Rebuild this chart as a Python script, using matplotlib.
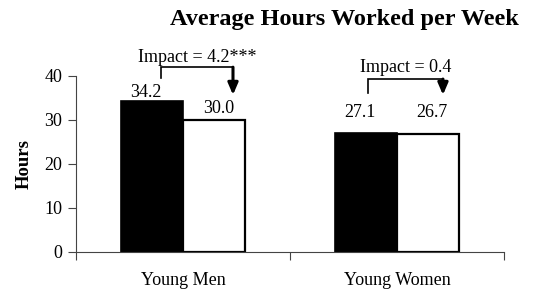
import matplotlib
matplotlib.use("Agg")
import matplotlib.pyplot as plt
import numpy as np

categories = ["Young Men", "Young Women"]
program = [34.2, 27.1]
control = [30.0, 26.7]
impacts = ["Impact = 4.2***", "Impact = 0.4"]

plt.rcParams['font.family'] = ['Liberation Serif', 'DejaVu Serif']

fig = plt.figure(figsize=(5.46, 2.93), dpi=100)
ax = fig.add_axes([0.139, 0.140, 0.784, 0.6007])

x = np.arange(len(categories))
w = 0.29
ax.bar(x - w / 2, program, w, color="black", edgecolor="black", linewidth=1.2)
ax.bar(x + w / 2, control, w, color="white", edgecolor="black", linewidth=1.6)

ax.set_xlim(-0.5, 1.5)
ax.set_ylim(0, 40)
ax.set_yticks([0, 10, 20, 30, 40])
ax.set_xticks([-0.5, 0.5, 1.5])
ax.set_xticklabels([])
ax.tick_params(axis='both', length=6, width=0.8, color="#444444", labelsize=13)
ax.tick_params(axis='y', pad=4)
for s in ["top", "right"]:
    ax.spines[s].set_visible(False)
for s in ["left", "bottom"]:
    ax.spines[s].set_color("#444444")
    ax.spines[s].set_linewidth(0.8)

for xi, name in zip(x, categories):
    ax.text(xi, -7.5, name, ha="center", va="baseline", fontsize=13)

ax.set_ylabel("Hours", fontsize=13.5, fontweight="bold", labelpad=8)

# value labels
label_y = [(36.3, 32.5), (31.7, 31.7)]
for i in range(len(categories)):
    ax.text(x[i] - w / 2 - 0.026, label_y[i][0], f"{program[i]:.1f}",
            ha="center", va="center", fontsize=13)
    ax.text(x[i] + w / 2 + 0.02, label_y[i][1], f"{control[i]:.1f}",
            ha="center", va="center", fontsize=13)

# impact brackets
brackets = [(-0.103, 0.234, 42.0, 39.5, 44.1), (0.864, 1.215, 39.3, 36.1, 42.0)]
for (xl, xr, top, low, ty), txt in zip(brackets, impacts):
    ax.plot([xl, xl, xr], [low, top, top], color="black", lw=1.2,
            clip_on=False, solid_joinstyle="miter")
    ax.annotate("", xy=(xr, 35.7), xytext=(xr, top),
                arrowprops=dict(arrowstyle="-|>,head_width=0.3,head_length=0.7",
                                color="black", lw=2.2, shrinkA=0, shrinkB=0),
                annotation_clip=False)
    ax.text((xl + xr) / 2, ty, txt, ha="center", va="center", fontsize=13)

fig.text(0.63, 0.915, "Average Hours Worked per Week", ha="center", va="baseline",
         fontsize=17.5, fontweight="bold")

fig.savefig("out.png", dpi=100)
